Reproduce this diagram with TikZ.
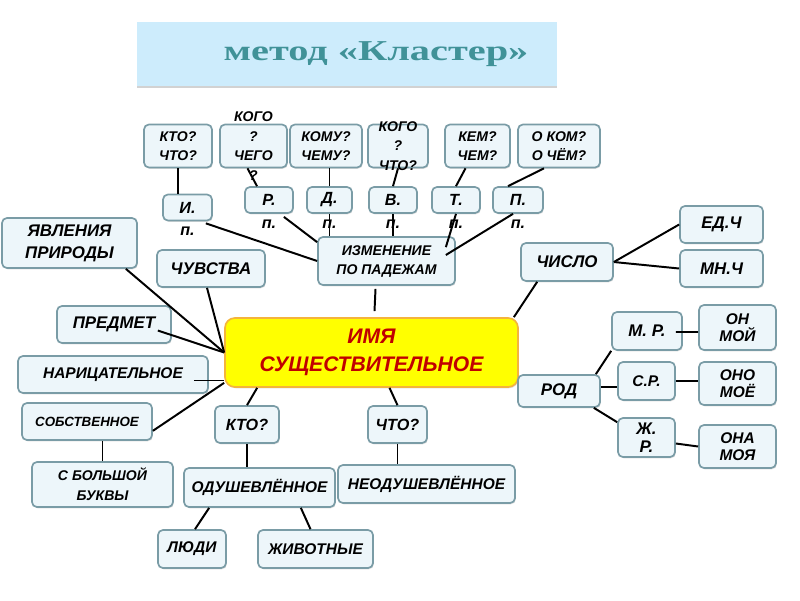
\documentclass[tikz,border=0pt]{standalone}
\usepackage{fontspec}
\setmainfont{Liberation Sans}
\newfontfamily\titlefont{Liberation Serif}
\usepackage{graphicx}
\usetikzlibrary{positioning, calc, shadows}
\definecolor{boxfill}{RGB}{237,246,250}
\definecolor{boxline}{RGB}{122,156,166}
\definecolor{titlefill}{RGB}{205,236,252}
\definecolor{titletext}{RGB}{64,146,152}
\definecolor{nounfill}{RGB}{255,255,0}
\definecolor{nounline}{RGB}{244,180,60}
\definecolor{nountext}{RGB}{192,0,0}

\begin{document}
\begin{tikzpicture}[x=0.025cm, y=-0.025cm,
        box/.style={draw=boxline, line width=1.2pt, rounded corners=3.5pt,
                    fill=boxfill, align=center, inner sep=1pt,
                    drop shadow={shadow xshift=0.6pt, shadow yshift=-0.9pt,
                                 opacity=0.25}},
        sz/.style 2 args={minimum width=#1*0.025cm, minimum height=#2*0.025cm},
        fbig/.style={font=\bfseries\itshape\fontsize{12}{15.5}\selectfont},
        fmid/.style={font=\bfseries\itshape\fontsize{11}{12.5}\selectfont},
        fsmall/.style={font=\bfseries\itshape\fontsize{10}{13.5}\selectfont},
        fcase/.style={font=\bfseries\itshape\fontsize{11.5}{13}\selectfont},
        over/.style={align=center, inner sep=0pt,
                     font=\bfseries\itshape\fontsize{10}{14}\selectfont},
        ptx/.style={inner sep=0.5pt, fcase},
        link/.style={line width=1.4pt, black}]
    \fill[white] (0,0) rectangle (800,600);
    \useasboundingbox (0,0) rectangle (800,600);

    % title
    \node[fill=titlefill, sz={420}{64}, inner sep=0pt,
          drop shadow={shadow xshift=0pt, shadow yshift=-1.5pt, opacity=0.35}]
        (ttl) at (347,54)
        {\hspace*{1.45cm}\scalebox{1.4}[1]{\titlefont\bfseries\fontsize{20.5}{22}\selectfont
         \color{titletext}метод «Кластер»}};

    % questions and cases
    \node[box, fsmall, sz={68}{43}] (kto) at (178,146) {КТО?\\ЧТО?};
    \node[box, sz={67}{43}] (kogoR) at (253.5,146) {};
    \node[box, fsmall, sz={72}{43}] (komu) at (326,146) {КОМУ?\\ЧЕМУ?};
    \node[box, sz={60}{43}] (kogoV) at (398,146) {};
    \node[box, fsmall, sz={65}{43}] (kem) at (477.5,146) {КЕМ?\\ЧЕМ?};
    \node[box, fsmall, sz={82}{43}] (okom) at (559,146) {О КОМ?\\О ЧЁМ?};

    \node[box, fcase, sz={49}{26}] (Ib) at (187.5,207.5) {И.};
    \node[box, fcase, sz={48}{26}] (Rb) at (269,200) {Р.};
    \node[box, fcase, sz={45}{26}] (Db) at (329.5,200) {Д.};
    \node[box, fcase, sz={48}{26}] (Vb) at (393,200) {В.};
    \node[box, fcase, sz={48}{26}] (Tb) at (456,200) {Т.};
    \node[box, fcase, sz={50}{26}] (Pb) at (518,200) {П.};

    \node[box, fsmall, sz={137}{48}] (izm) at (386.5,261) {ИЗМЕНЕНИЕ\\ПО ПАДЕЖАМ};

    % left side
    \node[box, fbig, sz={135}{50}] (yav) at (69.5,243) {ЯВЛЕНИЯ\\ПРИРОДЫ};
    \node[box, fbig, sz={108}{37}] (chuv) at (211,268.5) {ЧУВСТВА};
    \node[box, fbig, sz={114}{37}] (pred) at (114,324.5) {ПРЕДМЕТ};
    \node[box, fmid, sz={190}{37}] (nar) at (113,374.5) {НАРИЦАТЕЛЬНОЕ};
    \node[box, font=\bfseries\itshape\fontsize{9.5}{12}\selectfont, sz={130}{37}]
        (sobs) at (87,421.5) {СОБСТВЕННОЕ};
    \node[box, font=\bfseries\itshape\fontsize{10}{14}\selectfont, sz={141}{45}]
        (sbol) at (102.5,484.5) {С БОЛЬШОЙ\\БУКВЫ};

    % centre
    \node[box, draw=nounline, fill=nounfill, text=nountext, rounded corners=7pt,
          font=\bfseries\itshape\fontsize{15}{20}\selectfont, sz={293}{69}]
        (noun) at (371.5,352.5) {ИМЯ\\СУЩЕСТВИТЕЛЬНОЕ};

    % bottom
    \node[box, fcase, sz={64}{37}] (kto2) at (247,424.5) {КТО?};
    \node[box, fcase, sz={59}{37}] (chto2) at (397.5,424.5) {ЧТО?};
    \node[box, fmid, sz={151}{39}] (odu) at (259.5,487.5) {ОДУШЕВЛЁННОЕ};
    \node[box, fmid, sz={177}{38}] (neodu) at (426.5,484) {НЕОДУШЕВЛЁННОЕ};
    \node[box, fmid, sz={68}{38}] (lyudi) at (192,549) {ЛЮДИ};
    \node[box, fmid, sz={115}{38}] (zhiv) at (315.5,549) {ЖИВОТНЫЕ};

    % right side
    \node[box, fbig, sz={92}{38}] (chislo) at (567,262) {ЧИСЛО};
    \node[box, fbig, sz={83}{37}] (ed) at (721.5,224.5) {ЕД.Ч};
    \node[box, fbig, sz={83}{37}] (mn) at (721.5,268.5) {МН.Ч};
    \node[box, fbig, sz={82}{32}] (rod) at (559,391) {РОД};
    \node[box, fbig, sz={70}{38}] (mr) at (647,331) {М. Р.};
    \node[box, fmid, sz={57}{38}] (sr) at (646.5,381) {С.Р.};
    \node[box, font=\bfseries\itshape\fontsize{12}{13}\selectfont, sz={57}{39}]
        (zhr) at (646.5,437.5) {Ж.\\Р.};
    \node[box, fmid, sz={77}{45}] (on) at (737.5,327.5) {ОН\\МОЙ};
    \node[box, fmid, sz={77}{43}] (ono) at (737.5,383.5) {ОНО\\МОЁ};
    \node[box, fmid, sz={77}{43}] (ona) at (737.5,446.5) {ОНА\\МОЯ};

    % connectors
    \draw[link] (kto.south) -- (kto.south |- Ib.north);
    \draw[link] ($(Rb.north)+(-12,0)$) -- ($(kogoR.south)+(-6,0)$);
    \draw[link] (Db.north) -- (Db.north |- komu.south);
    \draw[link] (Vb.north) -- (kogoV.south);
    \draw[link] (Tb.north) -- ($(kem.south)+(-12,0)$);
    \draw[link] ($(Pb.north)+(-10,0)$) -- ($(okom.south)+(-15,0)$);
    \draw[link] ($(Ib.south east)+(-7,2)$) -- (izm.west);
    \draw[link] ($(Rb.south east)+(-10,3)$) -- ($(izm.north west)+(0,6)$);
    \draw[link] (Db.south) -- (Db.south |- izm.north);
    \draw[link] (Vb.south) -- (Vb.south |- izm.north);
    \draw[link] (Tb.south) -- ($(izm.north east)+(-10,11)$);
    \draw[link] ($(Pb.south)+(-5,0)$) -- ($(izm.east)+(-10,-6)$);
    \draw[link] ($(izm.south)+(-11,3)$) -- ($(noun.north)+(3,-6)$);

    \draw[link] ($(yav.south east)+(-12,0)$) -- (noun.west);
    \draw[link] ($(chuv.south)+(-4,0)$) -- (noun.west);
    \draw[link] ($(pred.east)+(-14,6)$) -- (noun.west);
    \draw[link] ($(nar.east)+(-15,6)$) -- ($(noun.west)+(0,28)$);
    \draw[link] ($(sobs.south east)+(0,-10)$) -- ($(noun.south west)+(0,-5)$);
    \draw[link] (sbol.north) -- (sbol.north |- sobs.south);

    \draw[link] ($(noun.south west)+(33,0)$) -- (kto2.north);
    \draw[link] ($(noun.south)+(18,0)$) -- (chto2.north);
    \draw[link] (kto2.south) -- (kto2.south |- odu.north);
    \draw[link] (chto2.south) -- (chto2.south |- neodu.north);
    \draw[link] ($(odu.south west)+(26,0)$) -- ($(lyudi.north)+(3,0)$);
    \draw[link] ($(odu.south east)+(-35,0)$) -- ($(zhiv.north)+(-5,0)$);

    \draw[link] ($(noun.north east)+(-5,0)$) -- ($(chislo.south west)+(17,0)$);
    \draw[link] (chislo.east) -- (ed.west);
    \draw[link] (chislo.east) -- (mn.west);
    \draw[link] ($(rod.north east)+(-5,0)$) -- (mr.south west);
    \draw[link] ($(rod.east)+(0,-4)$) -- ($(sr.west)+(0,6)$);
    \draw[link] ($(rod.south east)+(-7,0)$) -- ($(zhr.north west)+(0,5)$);
    \draw[link] ($(mr.east)+(-7,1)$) -- ($(on.west)+(0,4.5)$);
    \draw[link] (sr.east) -- (sr.east -| ono.west);
    \draw[link] ($(zhr.east)+(0,6)$) -- (ona.west);

    % texts over the boxes
    \node[over] (kogoRt) at (kogoR) {КОГО\\?\\ЧЕГО\\?};
    \node[over] (kogoVt) at (kogoV) {КОГО\\?\\ЧТО?};
    \node[ptx, below=0.12cm of Ib] (Ip) {п.};
    \node[ptx, below=0.12cm of Rb] (Rp) {п.};
    \node[ptx, below=0.12cm of Db] (Dp) {п.};
    \node[ptx, below=0.12cm of Vb] (Vp) {п.};
    \node[ptx, below=0.12cm of Tb] (Tp) {п.};
    \node[ptx, below=0.12cm of Pb] (Pp) {п.};
\end{tikzpicture}
\end{document}
